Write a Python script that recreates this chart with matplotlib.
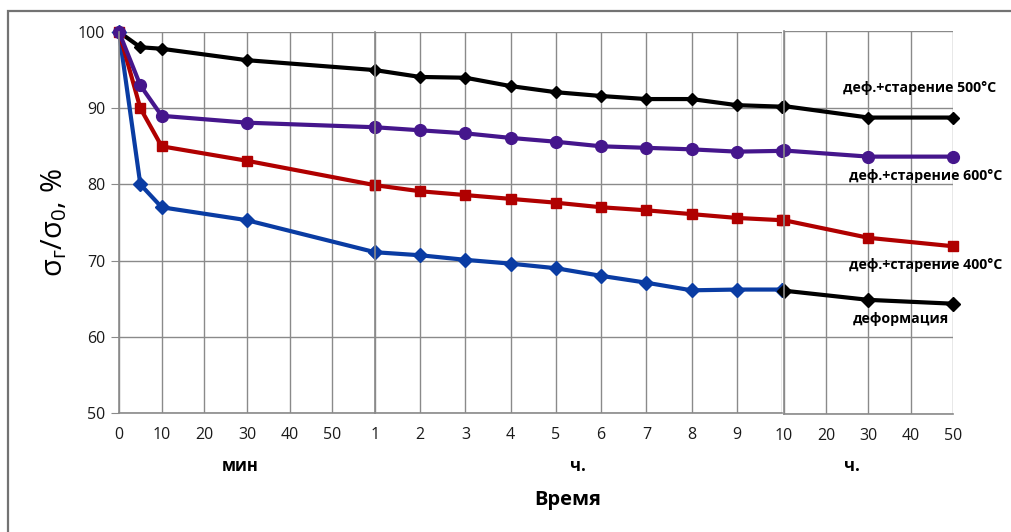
import matplotlib

matplotlib.use("Agg")
import matplotlib.pyplot as plt
from matplotlib.patches import Rectangle

plt.rcParams["font.family"] = ["Open Sans", "DejaVu Sans"]

# x positions of the three panels: minutes, hours 1-10, hours 10-50
MIN_X = [0, 5, 10, 30, 60]
H_X = [1, 2, 3, 4, 5, 6, 7, 8, 9, 10]
H2_X = [10, 30, 50]

S500_MIN = [100, 98.0, 97.8, 96.3, 95.0]
S600_MIN = [100, 93.0, 89.0, 88.1, 87.5]
S400_MIN = [100, 90.0, 85.0, 83.1, 79.9]
DEF_MIN = [100, 80.0, 77.0, 75.3, 71.1]

S500_H = [95.0, 94.1, 94.0, 92.9, 92.1, 91.6, 91.2, 91.2, 90.4, 90.2]
S600_H = [87.5, 87.1, 86.7, 86.1, 85.6, 85.0, 84.8, 84.6, 84.3, 84.4]
S400_H = [79.9, 79.1, 78.6, 78.1, 77.6, 77.0, 76.6, 76.1, 75.6, 75.3]
DEF_H = [71.1, 70.7, 70.1, 69.6, 69.0, 68.0, 67.1, 66.1, 66.2, 66.2]

S500_H2 = [90.2, 88.7, 88.7]
S600_H2 = [84.4, 83.6, 83.6]
S400_H2 = [75.3, 73.0, 71.9]
DEF_H2 = [66.1, 64.9, 64.4]

LABELS = ["деф.+старение 500°C", "деф.+старение 600°C",
          "деф.+старение 400°C", "деформация"]
Y_TICKS = [50, 60, 70, 80, 90, 100]

BLACK, PURPLE, RED, BLUE = "#000000", "#45168C", "#B00000", "#0A3CA3"
GRIDC = "#8a8a8a"
W, H = 1011, 532


def box(x0, x1, y0, y1):
    # pixel box (top-down y) -> figure fraction rect
    return [x0 / W, 1 - y1 / H, (x1 - x0) / W, (y1 - y0) / H]


fig = plt.figure(figsize=(W / 100, H / 100), dpi=100, facecolor="white")
fig.patches.append(Rectangle((8 / W, -0.1), 1.2, 1 - 11 / H + 0.1,
                             transform=fig.transFigure, fill=False,
                             ec="#737373", lw=1.6))

ax1 = fig.add_axes(box(119, 375, 32, 413))
ax2 = fig.add_axes(box(375, 782, 32, 413))
ax3 = fig.add_axes(box(784, 953, 31, 414))

style = dict(lw=3.0, clip_on=False)


def draw(ax, xs, s500, s600, s400, sdef, def_color, def_marker, def_ms):
    ax.plot(xs, s500, color=BLACK, marker="D", ms=6, **style)
    ax.plot(xs, sdef, color=def_color, marker=def_marker, ms=def_ms, **style)
    ax.plot(xs, s400, color=RED, marker="s", ms=7.5, **style)
    ax.plot(xs, s600, color=PURPLE, marker="o", ms=8.5, **style)


draw(ax1, MIN_X, S500_MIN, S600_MIN, S400_MIN, DEF_MIN, BLUE, "D", 7.5)
draw(ax2, H_X, S500_H, S600_H, S400_H, DEF_H, BLUE, "D", 7.5)
draw(ax3, H2_X, S500_H2, S600_H2, S400_H2, DEF_H2, BLACK, "D", 7)

ax1.set_xlim(0, 60)
ax1.set_xticks([0, 10, 20, 30, 40, 50, 60])
ax1.set_xticklabels(["0", "10", "20", "30", "40", "50", ""])
ax2.set_xlim(1, 10)
ax2.set_xticks(H_X)
ax2.set_xticklabels([str(v) for v in H_X[:-1]] + [""])
ax3.set_xlim(10, 50)
ax3.set_xticks([10, 20, 30, 40, 50])

for ax in (ax1, ax2, ax3):
    ax.set_ylim(50, 100)
    ax.set_yticks(Y_TICKS)
    ax.grid(True, color=GRIDC, lw=1)
    ax.set_axisbelow(True)
    for side in ("top", "right"):
        ax.spines[side].set_visible(False)
    for side in ("left", "bottom"):
        ax.spines[side].set_color(GRIDC)
        ax.spines[side].set_linewidth(1.2)
    ax.tick_params(axis="x", length=0, pad=10, labelsize=11.5, labelcolor="#1a1a1a")
    ax.tick_params(axis="y", length=6, color=GRIDC, pad=4, labelsize=11.5,
                   labelcolor="#1a1a1a")
for ax in (ax2, ax3):
    ax.tick_params(axis="y", length=0, labelleft=False)

ax1.set_ylabel("σ$_\\mathregular{г}$/σ$_\\mathregular{0}$, %", fontsize=21,
               labelpad=6)

fig.text(240 / W, 1 - 466 / H, "мин", fontsize=12, fontweight="bold",
         ha="center", va="center")
fig.text(578 / W, 1 - 466 / H, "ч.", fontsize=12, fontweight="bold",
         ha="center", va="center")
fig.text(852 / W, 1 - 466 / H, "ч.", fontsize=12, fontweight="bold",
         ha="center", va="center")
fig.text(568 / W, 1 - 500 / H, "Время", fontsize=14.5, fontweight="bold",
         ha="center", va="center")

for txt, (px, py) in zip(LABELS, [(843, 88), (849, 176), (849, 265), (853, 319)]):
    fig.text(px / W, 1 - py / H, txt, fontsize=10.2, fontweight="bold",
             ha="left", va="center")

fig.savefig("out.png", dpi=100, facecolor="white")
